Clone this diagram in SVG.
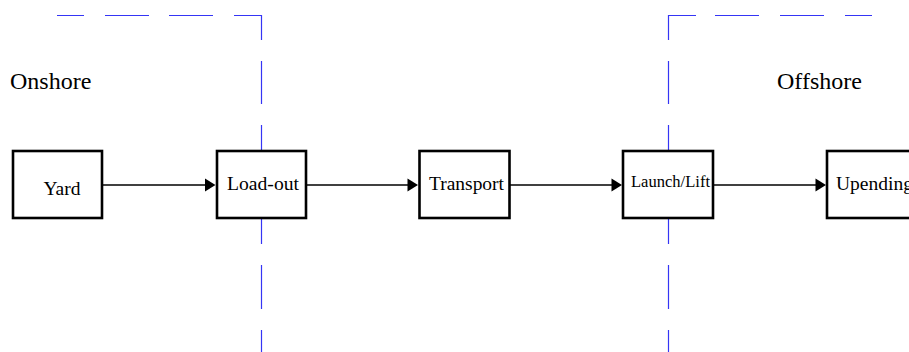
<svg xmlns="http://www.w3.org/2000/svg" width="909" height="352" viewBox="0 0 909 352">
  <style>
    .zone { fill: none; stroke: #3535f5; stroke-width: 1.2; }
    .box { fill: #ffffff; stroke: #000000; stroke-width: 2.6; }
    .flow { fill: none; stroke: #000000; stroke-width: 1.4; }
    .head { fill: #000000; stroke: none; }
    text { font-family: 'Liberation Serif', 'DejaVu Serif', 'Times New Roman', serif; fill: #000000; }
    .region { font-size: 24px; }
    .step { font-size: 19.5px; }
  </style>

  <!-- onshore / offshore zone boundaries (dashed) -->
  <g id="zones">
    <path class="zone" d="M57 15.5 H84 M105 15.5 H149 M169 15.5 H213 M234 15.5 H261.5 V40 M261.5 61 V104 M261.5 125 V168 M261.5 200 V244 M261.5 265 V309 M261.5 330 V352"/>
    <path class="zone" d="M872 15.5 H845 M824 15.5 H780 M759 15.5 H715 M696 15.5 H668.5 V40 M668.5 61 V104 M668.5 125 V168 M668.5 200 V244 M668.5 265 V309 M668.5 330 V352"/>
  </g>

  <text class="region" x="10" y="89">Onshore</text>
  <text class="region" x="777" y="89" font-size="25">Offshore</text>

  <!-- connectors -->
  <g id="connectors">
    <path class="flow" d="M102 185 H206"/>
    <polygon class="head" points="215.5,185 205,178.5 205,191.5"/>
    <path class="flow" d="M306 185 H409"/>
    <polygon class="head" points="418,185 407.5,178.5 407.5,191.5"/>
    <path class="flow" d="M510 185 H613"/>
    <polygon class="head" points="622,185 611.5,178.5 611.5,191.5"/>
    <path class="flow" d="M714 185 H817"/>
    <polygon class="head" points="826,185 815.5,178.5 815.5,191.5"/>
  </g>

  <g id="yard">
    <rect class="box" x="13" y="151" width="89" height="67"/>
    <text class="step" x="62" y="195" text-anchor="middle">Yard</text>
  </g>
  <g id="load-out">
    <rect class="box" x="217" y="151" width="89" height="67"/>
    <text class="step" x="227" y="190" textLength="72" lengthAdjust="spacingAndGlyphs">Load-out</text>
  </g>
  <g id="transport">
    <rect class="box" x="419.5" y="151" width="90" height="67"/>
    <text class="step" x="429" y="190" textLength="75" lengthAdjust="spacingAndGlyphs">Transport</text>
  </g>
  <g id="launch-lift">
    <rect class="box" x="623" y="151" width="90" height="67"/>
    <text x="631" y="187" font-size="17" textLength="79" lengthAdjust="spacingAndGlyphs">Launch/Lift</text>
  </g>
  <g id="upending">
    <rect class="box" x="827" y="151" width="100" height="67"/>
    <text class="step" x="836" y="190">Upending</text>
  </g>
</svg>
